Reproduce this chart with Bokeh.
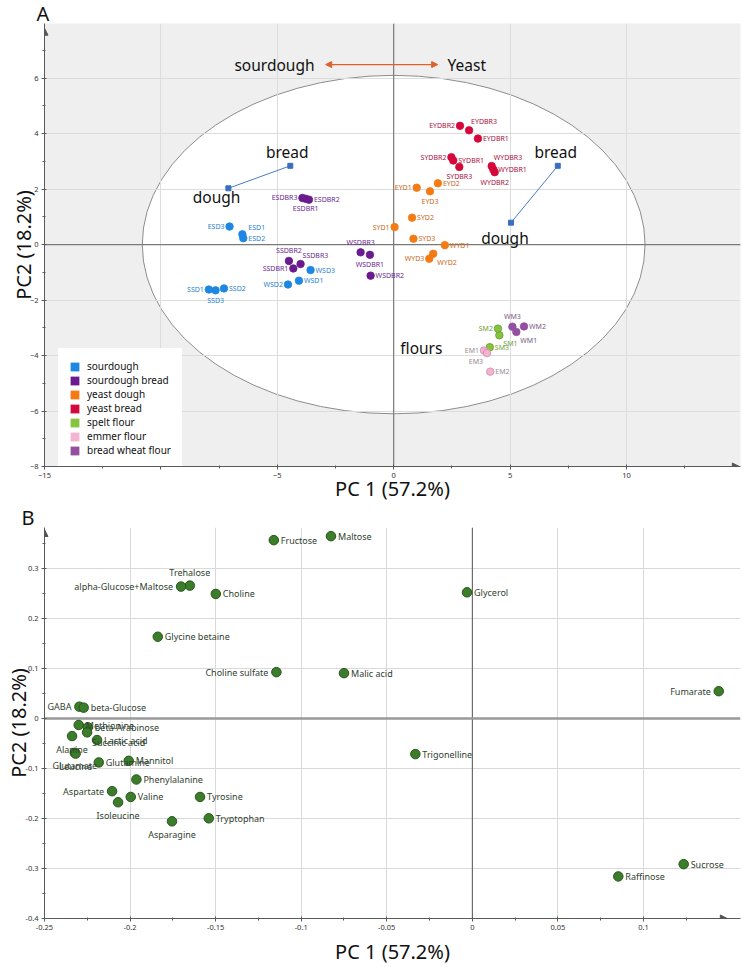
import numpy as np
from bokeh.plotting import figure
from bokeh.models import (ColumnDataSource, FixedTicker, Span, Label, Arrow, NormalHead,
                          Legend, LegendItem)
from bokeh.layouts import column
from bokeh.embed import file_html
from bokeh.resources import INLINE
from bokeh.core.properties import value

FONT = "Noto Sans"

# ======================= Panel A : PCA scores =======================
groups = ["sourdough", "sourdough bread", "yeast dough", "yeast bread",
          "spelt flour", "emmer flour", "bread wheat flour"]

sourdough_names = ["ESD1", "ESD2", "ESD3", "SSD1", "SSD2", "SSD3", "WSD1", "WSD2", "WSD3"]
sourdough_pc1 = [-6.50, -6.46, -7.05, -7.94, -7.29, -7.65, -4.07, -4.54, -3.57]
sourdough_pc2 = [0.37, 0.23, 0.65, -1.62, -1.58, -1.65, -1.30, -1.44, -0.92]

sourdough_bread_names = ["ESDBR1", "ESDBR2", "ESDBR3", "SSDBR1", "SSDBR2", "SSDBR3",
                         "WSDBR1", "WSDBR2", "WSDBR3"]
sourdough_bread_pc1 = [-3.78, -3.64, -3.92, -4.31, -4.50, -4.00, -1.02, -0.99, -1.42]
sourdough_bread_pc2 = [1.65, 1.62, 1.68, -0.86, -0.59, -0.70, -0.37, -1.12, -0.28]

yeast_dough_names = ["EYD1", "EYD2", "EYD3", "SYD1", "SYD2", "SYD3", "WYD1", "WYD2", "WYD3"]
yeast_dough_pc1 = [0.99, 1.90, 1.56, 0.04, 0.79, 0.85, 2.20, 1.70, 1.53]
yeast_dough_pc2 = [2.05, 2.21, 1.92, 0.63, 0.97, 0.21, -0.02, -0.33, -0.51]

yeast_bread_names = ["EYDBR1", "EYDBR2", "EYDBR3", "SYDBR1", "SYDBR2", "SYDBR3",
                     "WYDBR1", "WYDBR2", "WYDBR3"]
yeast_bread_pc1 = [3.62, 2.85, 3.24, 2.56, 2.48, 2.82, 4.28, 4.34, 4.21]
yeast_bread_pc2 = [3.82, 4.28, 4.12, 3.03, 3.15, 2.80, 2.71, 2.61, 2.83]

spelt_flour_names = ["SM1", "SM2", "SM3"]
spelt_flour_pc1 = [4.54, 4.48, 4.13]
spelt_flour_pc2 = [-3.27, -3.03, -3.70]

emmer_flour_names = ["EM1", "EM2", "EM3"]
emmer_flour_pc1 = [3.88, 4.15, 4.01]
emmer_flour_pc2 = [-3.82, -4.58, -3.91]

wheat_flour_names = ["WM1", "WM2", "WM3"]
wheat_flour_pc1 = [5.27, 5.60, 5.10]
wheat_flour_pc2 = [-3.15, -2.95, -2.96]

# dough -> bread trajectories (group centroids)
sourdough_traj_pc1 = [-7.10, -4.44]
sourdough_traj_pc2 = [2.03, 2.84]
yeast_traj_pc1 = [5.04, 7.05]
yeast_traj_pc2 = [0.79, 2.84]

# Hotelling T2 ellipse (semi-axes)
ellipse_pc1_radius = 10.8
ellipse_pc2_radius = 6.1

# ======================= Panel B : loadings =======================
metabolites = ["Fructose", "Maltose", "Trehalose", "alpha-Glucose+Maltose", "Choline",
               "Glycine betaine", "Choline sulfate", "Malic acid", "GABA", "beta-Glucose",
               "Glycerol", "Fumarate", "Trigonelline", "Sucrose", "Raffinose",
               "Methionine", "beta-Arabinose", "Succinic acid", "Alanine", "Lactic acid",
               "Glutamate", "Leucine", "Glutamine", "Mannitol", "Phenylalanine",
               "Aspartate", "Isoleucine", "Valine", "Asparagine", "Tyrosine", "Tryptophan"]
loading_pc1 = [-0.1160, -0.0826, -0.1651, -0.1702, -0.1499,
               -0.1838, -0.1145, -0.0750, -0.2296, -0.2271,
               -0.0031, 0.1440, -0.0333, 0.1235, 0.0853,
               -0.2300, -0.2247, -0.2251, -0.2339, -0.2193,
               -0.2323, -0.2318, -0.2183, -0.2008, -0.1963,
               -0.2105, -0.2070, -0.1996, -0.1755, -0.1591, -0.1540]
loading_pc2 = [0.3567, 0.3647, 0.2658, 0.2638, 0.2491,
               0.1635, 0.0927, 0.0907, 0.0237, 0.0217,
               0.2524, 0.0546, -0.0712, -0.2913, -0.3159,
               -0.0130, -0.0177, -0.0277, -0.0351, -0.0431,
               -0.0686, -0.0702, -0.0879, -0.0847, -0.1220,
               -0.1454, -0.1675, -0.1569, -0.2056, -0.1569, -0.1996]

# ======================= styles =======================
group_fill = ["#1d87e4", "#6a1b8d", "#f47a14", "#d4083a", "#86c440", "#f5b3d2", "#9450a0"]
group_line = ["#1d87e4", "#6a1b8d", "#f47a14", "#d4083a", "#5f9b2c", "#cc8aaa", "#9450a0"]
group_text = ["#2a7fd0", "#6b2a8c", "#c8691a", "#a8123e", "#6f9e3a", "#9a8a94", "#7a5a86"]

group_anchor = [
    ["ra", "r", "l", "l", "r", "b", "r", "l", "r"],
    ["b", "r", "l", "l", "a", "ar", "b", "r", "a"],
    ["l", "r", "b", "l", "r", "r", "r", "br", "l"],
    ["r", "l", "ar", "r", "l", "b", "r", "b", "ar"],
    ["br", "l", "r"],
    ["l", "r", "bl"],
    ["br", "r", "a"],
]
metabolite_anchor = ["r", "r", "a", "l", "r", "r", "l", "r", "l", "r",
                     "r", "l", "r", "r", "r", "r", "r", "br", "b", "r",
                     "b", "b", "r", "r", "r", "l", "b", "r", "b", "r", "r"]

A_OFF = {"r": (5, 0, "left"), "l": (-5, 0, "right"), "a": (0, -10, "center"),
         "b": (0, 10, "center"), "ar": (2, -9, "left"), "br": (4, 8.5, "left"),
         "bl": (-4, 8, "right"), "ra": (6, -7, "left")}
B_OFF = {"r": (7, 0, "left"), "l": (-8, 0, "right"), "a": (0, -13, "center"),
         "b": (0, 13, "center"), "br": (5, 10, "left")}


def style_axes(p):
    for ax in (p.xaxis[0], p.yaxis[0]):
        ax.axis_line_color = "#5a5a5a"
        ax.major_tick_line_color = "#5a5a5a"
        ax.minor_tick_line_color = "#5a5a5a"
        ax.major_tick_in = 2
        ax.major_tick_out = 3
        ax.minor_tick_in = 1
        ax.minor_tick_out = 2
        ax.major_label_text_font_size = "7.5px"
        ax.major_label_text_color = "#333333"
        ax.major_label_text_font = FONT
        ax.major_label_standoff = 3
        ax.axis_label_text_font = FONT
        ax.axis_label_text_font_size = "20px"
        ax.axis_label_text_font_style = "normal"
        ax.axis_label_text_color = "#111111"
    p.yaxis.axis_label_standoff = -10
    p.xaxis.axis_label_standoff = -6


def style_title(p, offset):
    p.title.align = "left"
    p.title.text_font = FONT
    p.title.text_font_size = "20px"
    p.title.text_font_style = "normal"
    p.title.text_color = "#111111"
    p.title.standoff = -6
    p.title.offset = offset


def axis_arrow(p, xs, ys, xe, ye):
    p.add_layout(Arrow(end=NormalHead(size=7, fill_color="#555555", line_color="#555555"),
                       x_start=xs, y_start=ys, x_end=xe, y_end=ye,
                       line_color="#555555", line_width=1))


# ======================= Figure A =======================
pA = figure(width=743, height=504, x_range=(-15, 14.9), y_range=(-8, 7.97),
            title="A", x_axis_label="PC 1 (57.2%)", y_axis_label="PC2 (18.2%)",
            output_backend="svg", toolbar_location=None,
            min_border_left=44, min_border_right=3, min_border_top=23, min_border_bottom=30,
            background_fill_color="#efefef", border_fill_color="white")
pA.outline_line_color = None
style_title(pA, -8)
pA.xaxis.ticker = FixedTicker(ticks=[-15, -10, -5, 0, 5, 10],
                              minor_ticks=[-12.5, -7.5, -2.5, 2.5, 7.5, 12.5])
pA.yaxis.ticker = FixedTicker(ticks=[-8, -6, -4, -2, 0, 2, 4, 6],
                              minor_ticks=[-7, -5, -3, -1, 1, 3, 5, 7])
pA.xaxis.major_label_overrides = {-10: ""}
pA.xgrid.grid_line_color = "#dcdcdc"
pA.ygrid.grid_line_color = "#dcdcdc"
style_axes(pA)

pA.ellipse(x=[0], y=[0], width=[2 * ellipse_pc1_radius], height=[2 * ellipse_pc2_radius],
           fill_color="white", line_color="#8c8c8c", line_width=1, level="image")
pA.add_layout(Span(location=0, dimension="height", line_color="#7a7a7a", line_width=1.2, level="underlay"))
pA.add_layout(Span(location=0, dimension="width", line_color="#7a7a7a", line_width=1.2, level="underlay"))

# trajectories
for tx, ty in ((sourdough_traj_pc1, sourdough_traj_pc2), (yeast_traj_pc1, yeast_traj_pc2)):
    pA.line(tx, ty, line_color="#4a7cc4", line_width=1)
    pA.scatter(tx, ty, marker="square", size=5, fill_color="#3a6fc0", line_color="#3a6fc0")

group_pc1 = [sourdough_pc1, sourdough_bread_pc1, yeast_dough_pc1, yeast_bread_pc1,
             spelt_flour_pc1, emmer_flour_pc1, wheat_flour_pc1]
group_pc2 = [sourdough_pc2, sourdough_bread_pc2, yeast_dough_pc2, yeast_bread_pc2,
             spelt_flour_pc2, emmer_flour_pc2, wheat_flour_pc2]
group_names = [sourdough_names, sourdough_bread_names, yeast_dough_names, yeast_bread_names,
               spelt_flour_names, emmer_flour_names, wheat_flour_names]

items = []
for i in range(len(groups)):
    # invisible zero-size squares: used only as legend swatches
    sw = pA.rect(x=group_pc1[i], y=group_pc2[i], width=0, height=0,
                 fill_color=group_fill[i], line_alpha=0)
    items.append(LegendItem(label=groups[i], renderers=[sw]))
    pA.scatter(group_pc1[i], group_pc2[i], size=7.5, fill_color=group_fill[i],
               line_color=group_line[i], line_width=0.8)
    offs = [A_OFF[a] for a in group_anchor[i]]
    src = ColumnDataSource(dict(x=group_pc1[i], y=group_pc2[i], text=group_names[i],
                                dx=[o[0] for o in offs], dy=[o[1] for o in offs],
                                align=[o[2] for o in offs]))
    pA.text(x="x", y="y", text="text", source=src, x_offset="dx", y_offset="dy",
            text_align="align", text_baseline="middle", text_color=group_text[i],
            text_font=value(FONT), text_font_size="7px")

legA = Legend(items=items, location=(14, -2), padding=11, spacing=0, margin=0,
              glyph_width=11, glyph_height=11, label_height=11, label_standoff=7,
              label_text_font_size="10px", label_text_font=FONT, label_text_color="#111111",
              background_fill_color="white", background_fill_alpha=1.0, border_line_alpha=0)
pA.add_layout(legA)

# annotations
pA.add_layout(Arrow(start=NormalHead(size=6, fill_color="#e0602a", line_color="#e0602a"),
                    end=NormalHead(size=6, fill_color="#e0602a", line_color="#e0602a"),
                    x_start=-2.92, y_start=6.49, x_end=1.89, y_end=6.49,
                    line_color="#e0602a", line_width=1.3))
for txt, x, y in (("sourdough", -5.12, 6.49), ("Yeast", 3.14, 6.49),
                  ("bread", -4.57, 3.33), ("dough", -7.61, 1.70),
                  ("bread", 6.96, 3.34), ("dough", 4.78, 0.23), ("flours", 1.19, -3.73)):
    pA.add_layout(Label(x=x, y=y, text=txt, text_align="center", text_baseline="middle",
                        text_font=FONT, text_font_size="15.5px", text_color="#111111"))

axis_arrow(pA, -15, 7.2, -15, 7.8)
axis_arrow(pA, 14.2, -8, 14.85, -8)

# ======================= Figure B =======================
pB = figure(width=743, height=463, x_range=(-0.25, 0.1567), y_range=(-0.4, 0.382),
            title="B", x_axis_label="PC 1 (57.2%)", y_axis_label="PC2 (18.2%)",
            output_backend="svg", toolbar_location=None,
            min_border_left=43, min_border_right=3, min_border_top=17, min_border_bottom=45,
            background_fill_color="white", border_fill_color="white")
pB.outline_line_color = None
style_title(pB, -23)
xt = [-0.25, -0.2, -0.15, -0.1, -0.05, 0, 0.05, 0.1]
yt = [-0.4, -0.3, -0.2, -0.1, 0, 0.1, 0.2, 0.3]
pB.xaxis.ticker = FixedTicker(ticks=xt, minor_ticks=[-0.225, -0.175, -0.125, -0.075, -0.025,
                                                     0.025, 0.075, 0.125])
pB.yaxis.ticker = FixedTicker(ticks=yt, minor_ticks=[-0.35, -0.25, -0.15, -0.05, 0.05,
                                                     0.15, 0.25, 0.35])
pB.xaxis.major_label_overrides = {-0.25: "-0.25", -0.2: "-0.2", -0.15: "-0.15", -0.1: "-0.1",
                                  -0.05: "-0.05", 0: "0", 0.05: "0.05", 0.1: "0.1"}
pB.yaxis.major_label_overrides = {-0.4: "-0.4", -0.3: "-0.3", -0.2: "-0.2", -0.1: "-0.1",
                                  0: "0", 0.1: "0.1", 0.2: "0.2", 0.3: "0.3"}
pB.xgrid.grid_line_color = "#d9d9d9"
pB.ygrid.grid_line_color = "#d9d9d9"
style_axes(pB)
pB.xaxis.axis_label_standoff = 5
pB.add_layout(Span(location=0, dimension="height", line_color="#555555", line_width=1, level="underlay"))
pB.add_layout(Span(location=0, dimension="width", line_color="#999999", line_width=2.5, level="underlay"))

offsB = [B_OFF[a] for a in metabolite_anchor]
srcB = ColumnDataSource(dict(x=loading_pc1, y=loading_pc2, text=metabolites,
                             dx=[o[0] for o in offsB], dy=[o[1] for o in offsB],
                             align=[o[2] for o in offsB]))
pB.scatter(x="x", y="y", source=srcB, size=9.5, fill_color="#3c7d2c", line_color="#27561b",
           line_width=1)
pB.text(x="x", y="y", text="text", source=srcB, x_offset="dx", y_offset="dy",
        text_align="align", text_baseline="middle", text_color="#2f3f2f",
        text_font=value(FONT), text_font_size="9px")

axis_arrow(pB, -0.25, 0.35, -0.25, 0.378)
axis_arrow(pB, 0.135, -0.4, 0.149, -0.4)

layout = column(pA, pB)
open("out.html", "w").write(file_html(layout, INLINE))
